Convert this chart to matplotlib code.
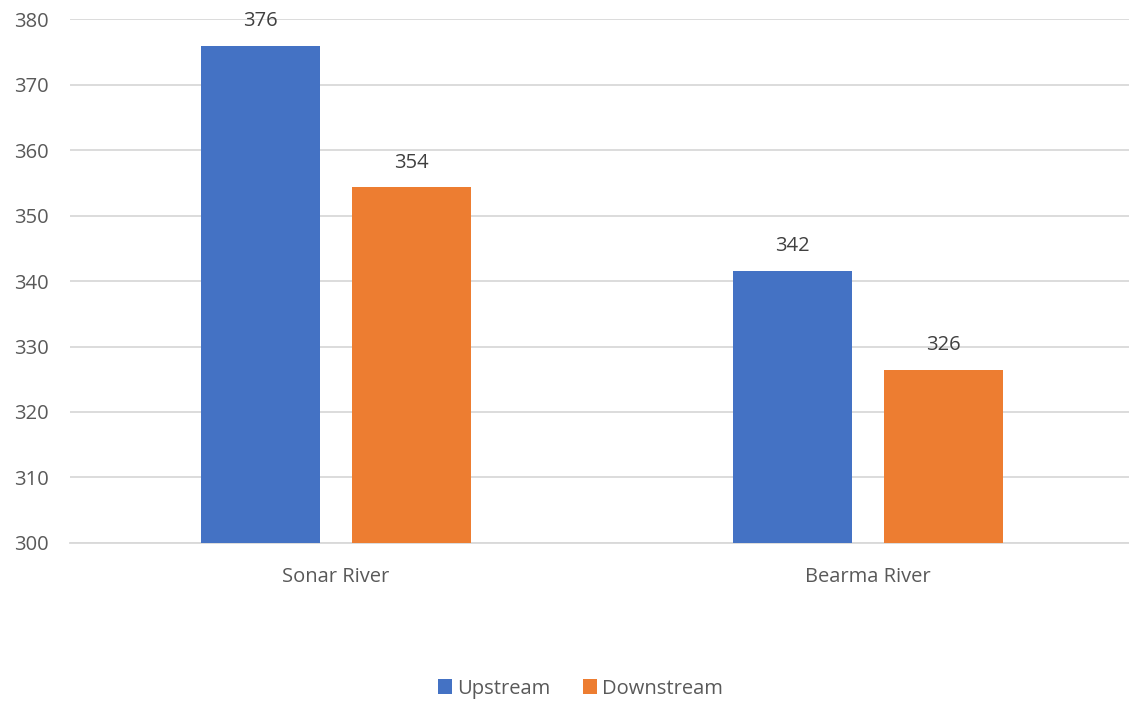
import numpy as np
import matplotlib.pyplot as plt

rivers = ['Sonar River', 'Bearma River']
upstream = [375.9, 341.6]
downstream = [354.3, 326.4]
upstream_labels = ['376', '342']
downstream_labels = ['354', '326']
yticks = [300, 310, 320, 330, 340, 350, 360, 370, 380]

plt.rcParams['font.family'] = ['Open Sans', 'DejaVu Sans']

fig = plt.figure(figsize=(11.29, 7.04), dpi=100)
ax = fig.add_axes([70 / 1129, 0.2287, 1064 / 1129, 0.7443])

x = np.arange(len(rivers))
w = 0.224
off = 0.142
b1 = ax.bar(x - off, upstream, w, bottom=0, color='#4472C4', label='Upstream', zorder=3)
b2 = ax.bar(x + off, downstream, w, bottom=0, color='#ED7D31', label='Downstream', zorder=3)

# value labels above the bars
for bars, labs in [(b1, upstream_labels), (b2, downstream_labels)]:
    for b, lab in zip(bars, labs):
        ax.annotate(lab, (b.get_x() + b.get_width() / 2, b.get_height()),
                    xytext=(0, 10.5), textcoords='offset points',
                    ha='center', va='bottom', fontsize=14.5, color='#404040')

ax.set_xlim(-0.5, 1.5)
ax.set_ylim(300, 380)
ax.set_yticks(yticks)
ax.set_xticks(x)
ax.set_xticklabels(rivers)
ax.grid(axis='y', color='#D9D9D9', linewidth=1.3, zorder=0)
for s in ['top', 'right', 'left']:
    ax.spines[s].set_visible(False)
ax.spines['bottom'].set_color('#D9D9D9')
ax.spines['bottom'].set_linewidth(1.3)
ax.tick_params(axis='both', length=0, labelsize=14.5, colors='#595959')
ax.tick_params(axis='x', pad=17)
ax.tick_params(axis='y', pad=15)

fig.legend(loc='center', bbox_to_anchor=(0.514, 0.022), ncol=2, frameon=False,
           fontsize=14.5, handlelength=0.7, handleheight=0.7, handletextpad=0.25,
           columnspacing=1.6, labelcolor='#595959')

fig.savefig('out.png', dpi=100)
